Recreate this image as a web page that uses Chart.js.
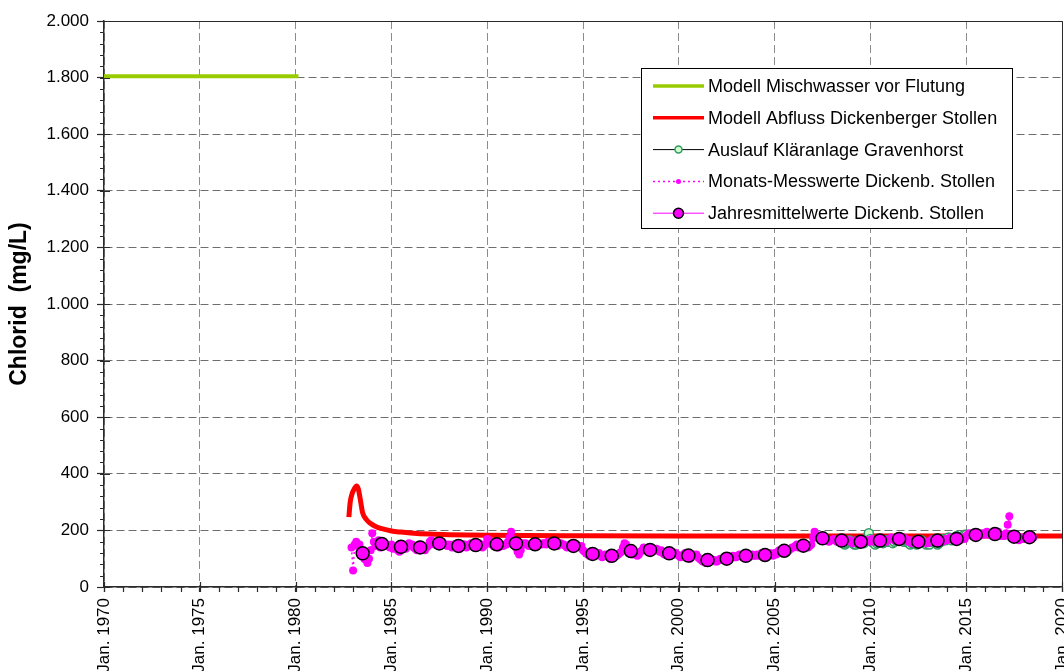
<!DOCTYPE html>
<html>
<head>
<meta charset="utf-8">
<title>Chlorid</title>
<script src="https://cdn.jsdelivr.net/npm/chart.js@4.4.1/dist/chart.umd.min.js"></script>
<style>
  html, body { margin: 0; padding: 0; background: #ffffff; }
  canvas { display: block; }
</style>
</head>
<body>
<canvas id="chart" width="1064" height="671"></canvas>
<script>
// ---- axis ticks ----
const xTickYears = [1970, 1975, 1980, 1985, 1990, 1995, 2000, 2005, 2010, 2015, 2020];
const yTickValues = [0, 200, 400, 600, 800, 1000, 1200, 1400, 1600, 1800, 2000];

// ---- series labels ----
const seriesLabels = [
  'Modell Mischwasser vor Flutung',
  'Modell Abfluss Dickenberger Stollen',
  'Auslauf Kläranlage Gravenhorst',
  'Monats-Messwerte Dickenb. Stollen',
  'Jahresmittelwerte Dickenb. Stollen'
];

// Model: mixed water before flooding (decimal year, mg/L)
const mischwasserYears = [1970.0, 1980.15];
const mischwasserValues = [1805, 1805];

// Model: discharge Dickenberger Stollen (decimal year, mg/L)
const abflussYears = [1982.78, 1982.85, 1982.95, 1983.05, 1983.18, 1983.28, 1983.4, 1983.5, 1983.7, 1983.9, 1984.2, 1984.5, 1985.0, 1985.5, 1986.0, 1987.0, 1988.0, 1990.0, 1995.0, 2000.0, 2010.0, 2020.0];
const abflussValues = [247, 300, 330, 345, 357, 345, 300, 262, 238, 225, 213, 206, 198, 194, 191, 187, 185, 183, 181, 180, 180, 180];

// Monthly measurements Dickenberger Stollen, first value Dec 1982
const monatsStart = [1982, 12];
const monatsValues = [
  140,
  /* 1983 */ 58, 150, 160, 145, 150, 125, 110, 100, 95, 85, 100, 130,
  /* 1984 */ 190, 160, 145, 150, 165, 140, 150, 155, 145, 150, 145, 140,
  /* 1985 */ 150, 135, 145, 140, 130, 125, 140, 150, 145, 135, 150, 155,
  /* 1986 */ 145, 150, 140, 135, 130, 145, 150, 140, 135, 130, 140, 145,
  /* 1987 */ 160, 165, 155, 150, 160, 150, 145, 155, 160, 150, 150, 145,
  /* 1988 */ 150, 145, 140, 150, 145, 150, 140, 135, 145, 150, 150, 140,
  /* 1989 */ 145, 150, 155, 150, 140, 145, 150, 155, 150, 140, 145, 150,
  /* 1990 */ 170, 165, 160, 150, 145, 150, 145, 140, 145, 150, 145, 150,
  /* 1991 */ 150, 160, 175, 195, 170, 150, 140, 125, 115, 130, 155, 150,
  /* 1992 */ 155, 150, 145, 150, 155, 150, 145, 150, 155, 150, 150, 155,
  /* 1993 */ 155, 150, 160, 155, 150, 155, 160, 150, 145, 155, 155, 150,
  /* 1994 */ 150, 145, 140, 145, 150, 145, 140, 145, 150, 145, 140, 145,
  /* 1995 */ 130, 125, 120, 115, 110, 115, 120, 115, 110, 115, 120, 110,
  /* 1996 */ 105, 110, 115, 110, 105, 100, 105, 110, 115, 110, 115, 120,
  /* 1997 */ 125, 140, 155, 150, 135, 125, 120, 115, 120, 115, 110, 115,
  /* 1998 */ 125, 130, 140, 135, 130, 125, 130, 135, 130, 130, 135, 130,
  /* 1999 */ 125, 130, 120, 115, 120, 115, 110, 120, 125, 115, 120, 115,
  /* 2000 */ 110, 105, 110, 115, 120, 115, 110, 100, 105, 115, 110, 115,
  /* 2001 */ 105, 100, 95, 90, 95, 85, 90, 95, 100, 95, 95, 90,
  /* 2002 */ 90, 95, 100, 95, 100, 105, 100, 95, 100, 105, 110, 105,
  /* 2003 */ 105, 110, 115, 110, 105, 110, 115, 110, 105, 110, 115, 110,
  /* 2004 */ 110, 115, 110, 115, 120, 110, 105, 110, 115, 120, 115, 110,
  /* 2005 */ 120, 115, 125, 130, 125, 130, 135, 130, 125, 130, 135, 140,
  /* 2006 */ 140, 145, 150, 140, 145, 150, 155, 150, 145, 140, 145, 150,
  /* 2007 */ 175, 195, 185, 175, 170, 165, 170, 165, 170, 165, 160, 165,
  /* 2008 */ 165, 170, 165, 160, 165, 170, 165, 160, 165, 160, 165, 165,
  /* 2009 */ 160, 155, 160, 165, 160, 155, 150, 160, 165, 160, 165, 160,
  /* 2010 */ 165, 170, 160, 165, 160, 165, 170, 165, 160, 165, 160, 165,
  /* 2011 */ 170, 175, 170, 165, 170, 175, 170, 165, 170, 175, 170, 165,
  /* 2012 */ 160, 165, 155, 160, 165, 160, 155, 160, 165, 160, 155, 160,
  /* 2013 */ 155, 160, 165, 170, 165, 160, 165, 170, 165, 160, 165, 170,
  /* 2014 */ 165, 170, 175, 170, 165, 170, 175, 170, 165, 170, 175, 170,
  /* 2015 */ 180, 185, 190, 185, 180, 185, 190, 185, 180, 185, 190, 185,
  /* 2016 */ 190, 195, 185, 190, 185, 180, 185, 190, 195, 185, 180, 185,
  /* 2017 */ 180, 190, 220, 250, 185, 175, 170, 175, 170, 165, 175, 170,
  /* 2018 */ 175, 170, 180, 175, 170, 180, 175
];

// Annual means Dickenberger Stollen
const jahresYears = [1983.5, 1984.5, 1985.5, 1986.5, 1987.5, 1988.5, 1989.4, 1990.5, 1991.5, 1992.5, 1993.5, 1994.5, 1995.5, 1996.5, 1997.5, 1998.5, 1999.5, 2000.5, 2001.5, 2002.5, 2003.5, 2004.5, 2005.5, 2006.5, 2007.5, 2008.5, 2009.5, 2010.5, 2011.5, 2012.5, 2013.5, 2014.5, 2015.5, 2016.5, 2017.5, 2018.3];
const jahresValues = [119, 152, 142, 140, 154, 145, 148, 151, 154, 151, 154, 145, 117, 110, 127, 131, 119, 111, 95, 100, 110, 113, 128, 146, 172, 164, 160, 164, 170, 160, 164, 170, 184, 187, 178, 176];

// Effluent sewage plant Gravenhorst, monthly, first value Jul 2008
const klaerStart = [2008, 7];
const klaerValues = [
  /* 2008 */ 160, 155, 150, 155, 160, 165,
  /* 2009 */ 160, 155, 150, 150, 155, 160, 165, 160, 155, 165, 175, 190,
  /* 2010 */ 170, 160, 155, 150, 155, 160, 165, 160, 155, 160, 165, 160,
  /* 2011 */ 165, 160, 155, 160, 165, 170, 175, 170, 165, 160, 165, 160,
  /* 2012 */ 155, 150, 155, 160, 155, 150, 155, 160, 165, 160, 155, 150,
  /* 2013 */ 155, 150, 160, 165, 160, 155, 150, 155, 160, 165, 170, 165,
  /* 2014 */ 170, 175, 170, 165, 170, 175, 180, 175, 170, 175, 180, 185,
  /* 2015 */ 185
];

// ---- helpers ----
const pair = (xs, ys) => xs.map((x, i) => ({ x: x, y: ys[i] }));
const monthly = (start, values) => values.map((v, i) => {
  const m = start[1] - 1 + i;
  return { x: start[0] + m / 12, y: v };
});
const fmtThousands = v => String(v).replace(/\B(?=(\d{3})+(?!\d))/g, '.');
const noScalePadding = s => {
  s.paddingLeft = 0; s.paddingRight = 0; s.paddingTop = 0; s.paddingBottom = 0;
};

const FONT = '"Liberation Sans", Arial, Helvetica, sans-serif';

// Axis frame, inner tick halves and minor ticks
const axisDecor = {
  id: 'axisDecor',
  afterDraw(chart) {
    const { ctx, chartArea: a, scales: { x, y } } = chart;
    ctx.save();
    ctx.strokeStyle = '#2a2a2a';
    ctx.lineWidth = 1;
    // right and top border of the plot area
    ctx.beginPath();
    ctx.moveTo(a.left, a.top + 0.5);
    ctx.lineTo(a.right + 0.5, a.top + 0.5);
    ctx.lineTo(a.right + 0.5, a.bottom);
    ctx.stroke();
    ctx.lineWidth = 1.2;
    ctx.beginPath();
    // minor ticks on x: every year, outside
    for (let yr = 1970; yr <= 2020; yr++) {
      const px = Math.round(x.getPixelForValue(yr)) + 0.5;
      ctx.moveTo(px, a.bottom);
      ctx.lineTo(px, a.bottom + 5);
    }
    // inner part of major x ticks
    xTickYears.forEach(yr => {
      const px = Math.round(x.getPixelForValue(yr)) + 0.5;
      ctx.moveTo(px, a.bottom - 5);
      ctx.lineTo(px, a.bottom);
    });
    // minor ticks on y: every 40 mg/L, outside
    for (let v = 0; v <= 2000; v += 40) {
      const py = Math.round(y.getPixelForValue(v)) + 0.5;
      ctx.moveTo(a.left - 4, py);
      ctx.lineTo(a.left, py);
    }
    // inner part of major y ticks
    yTickValues.forEach(v => {
      const py = Math.round(y.getPixelForValue(v)) + 0.5;
      ctx.moveTo(a.left, py);
      ctx.lineTo(a.left + 6, py);
    });
    ctx.stroke();
    ctx.restore();
  }
};

// Legend box with line + marker samples
const lineLegend = {
  id: 'lineLegend',
  afterDraw(chart, args, opts) {
    const { ctx } = chart;
    const b = opts.box;
    ctx.save();
    ctx.fillStyle = '#ffffff';
    ctx.fillRect(b.x, b.y, b.w, b.h);
    ctx.strokeStyle = '#000000';
    ctx.lineWidth = 1;
    ctx.strokeRect(b.x + 0.5, b.y + 0.5, b.w, b.h);
    chart.data.datasets.forEach((ds, row) => {
      const cy = b.y + opts.firstRow + row * opts.rowGap;
      const x0 = b.x + opts.sampleStart, x1 = b.x + opts.sampleEnd;
      const xm = (x0 + x1) / 2;
      ctx.save();
      ctx.strokeStyle = ds.borderColor;
      ctx.lineWidth = ds.legendLineWidth || ds.borderWidth;
      ctx.setLineDash(ds.borderDash || []);
      ctx.lineCap = 'butt';
      ctx.beginPath();
      ctx.moveTo(x0, cy);
      ctx.lineTo(x1, cy);
      ctx.stroke();
      ctx.setLineDash([]);
      if (ds.legendMarker) {
        ctx.beginPath();
        ctx.arc(xm, cy, ds.legendMarker, 0, Math.PI * 2);
        ctx.fillStyle = ds.pointBackgroundColor;
        ctx.fill();
        if (ds.pointBorderWidth) {
          ctx.lineWidth = ds.pointBorderWidth;
          ctx.strokeStyle = ds.pointBorderColor;
          ctx.stroke();
        }
      }
      ctx.restore();
      ctx.fillStyle = '#000000';
      ctx.font = opts.font;
      ctx.textBaseline = 'middle';
      ctx.textAlign = 'left';
      ctx.fillText(ds.label, b.x + opts.textStart, cy + 1);
    });
    ctx.restore();
  }
};

new Chart(document.getElementById('chart'), {
  type: 'scatter',
  data: {
    datasets: [
      {
        label: seriesLabels[0],
        data: pair(mischwasserYears, mischwasserValues),
        showLine: true,
        borderColor: '#99cc00',
        borderWidth: 4,
        legendLineWidth: 3.5,
        pointRadius: 0,
        order: 4
      },
      {
        label: seriesLabels[1],
        data: pair(abflussYears, abflussValues),
        showLine: true,
        borderColor: '#ff0000',
        borderWidth: 5,
        legendLineWidth: 3.5,
        cubicInterpolationMode: 'monotone',
        pointRadius: 0,
        order: 3
      },
      {
        label: seriesLabels[2],
        data: monthly(klaerStart, klaerValues),
        showLine: true,
        borderColor: '#000000',
        borderWidth: 1,
        pointRadius: 4.5,
        pointBackgroundColor: '#ccffcc',
        pointBorderColor: '#339966',
        pointBorderWidth: 1.5,
        legendMarker: 3.5,
        order: 2
      },
      {
        label: seriesLabels[3],
        data: monthly(monatsStart, monatsValues),
        showLine: true,
        borderColor: '#ff00ff',
        borderWidth: 1.5,
        borderDash: [2, 3],
        pointRadius: 4,
        pointBackgroundColor: '#ff00ff',
        pointBorderColor: '#ff00ff',
        pointBorderWidth: 0,
        legendMarker: 2.5,
        order: 1
      },
      {
        label: seriesLabels[4],
        data: pair(jahresYears, jahresValues),
        showLine: true,
        borderColor: '#ff00ff',
        borderWidth: 1,
        pointRadius: 6.5,
        pointBackgroundColor: '#ff00ff',
        pointBorderColor: '#000000',
        pointBorderWidth: 1.5,
        legendMarker: 5,
        order: 0
      }
    ]
  },
  options: {
    responsive: false,
    animation: false,
    devicePixelRatio: 1,
    layout: { autoPadding: false, padding: { top: 21, right: 2, left: 0, bottom: 0 } },
    plugins: {
      legend: { display: false },
      tooltip: { enabled: false },
      lineLegend: {
        box: { x: 641, y: 68, w: 371, h: 160 },
        firstRow: 18,
        rowGap: 31.8,
        sampleStart: 12,
        sampleEnd: 63,
        textStart: 67,
        font: '18px ' + FONT
      }
    },
    scales: {
      x: {
        type: 'linear',
        min: 1970,
        max: 2020,
        afterBuildTicks: s => { s.ticks = xTickYears.map(v => ({ value: v })); },
        afterFit: s => { s.height = 84; noScalePadding(s); },
        ticks: {
          autoSkip: false,
          minRotation: 90,
          maxRotation: 90,
          padding: 6,
          color: '#000000',
          font: { family: FONT, size: 17 },
          callback: v => 'Jan. ' + v
        },
        grid: {
          color: '#8c8c8c',
          lineWidth: 1,
          tickLength: 5,
          tickColor: '#2a2a2a',
          tickWidth: 1.2
        },
        border: { display: true, color: '#2a2a2a', width: 1.5, dash: [8, 4] }
      },
      y: {
        type: 'linear',
        min: 0,
        max: 2000,
        afterBuildTicks: s => { s.ticks = yTickValues.map(v => ({ value: v })); },
        afterFit: s => { s.width = 104; noScalePadding(s); },
        ticks: {
          padding: 8,
          color: '#000000',
          font: { family: FONT, size: 17 },
          callback: v => fmtThousands(v)
        },
        grid: {
          color: '#6e6e6e',
          lineWidth: 1,
          tickLength: 7,
          tickColor: '#2a2a2a',
          tickWidth: 1.2
        },
        border: { display: true, color: '#2a2a2a', width: 1.5, dash: [8, 4] },
        title: {
          display: true,
          text: 'Chlorid  (mg/L)',
          color: '#000000',
          font: { family: FONT, size: 23, weight: 'bold' },
          padding: { top: 6, bottom: 0 }
        }
      }
    }
  },
  plugins: [axisDecor, lineLegend]
});
</script>
</body>
</html>
